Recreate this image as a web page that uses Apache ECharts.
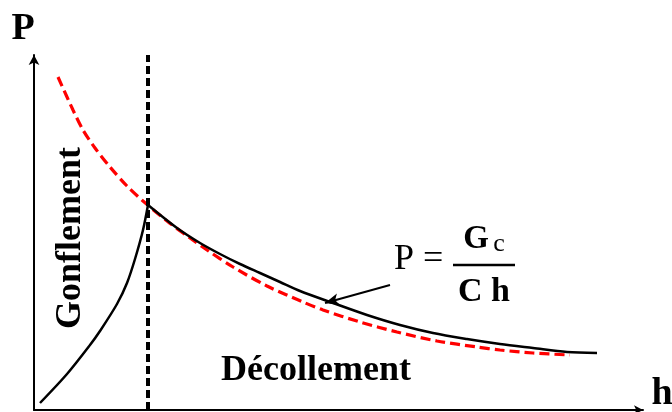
<!DOCTYPE html>
<html>
<head>
<meta charset="utf-8">
<script src="https://cdn.jsdelivr.net/npm/echarts@6/dist/echarts.min.js"></script>
<style>
  html, body { margin: 0; padding: 0; background: #fff; }
  #chart { width: 672px; height: 412px; }
</style>
</head>
<body>
<div id="chart"></div>
<script>
// abscisse du pic (gonflement -> decollement)
var hPic = 114;

// branche montante (gonflement)
var hMontee = [6, 33, 56, 66, 83, 93, 101, 109, 114];
var pMontee = [7, 36, 65, 79, 106, 127, 151, 180, 205];

// branche descendante (decollement)
var hDescente = [114, 143, 166, 186, 206, 226, 246, 266, 299, 333, 366, 399, 433, 466, 499, 533, 563];
var pDescente = [205, 182, 167, 156, 146, 137, 128, 119, 107, 95, 85, 77, 71, 66, 62, 58, 57];

// courbe theorique P = Gc / (C h)
var hTheo = [24, 39, 49, 61, 76, 93, 109, 133, 156, 173, 199, 233, 269, 289, 326, 363, 403, 443, 466, 499, 536];
var pTheo = [333, 300, 280, 262, 243, 224, 209, 189, 172, 160, 143, 124, 108, 100, 88, 78, 69, 63, 60, 57, 55];

// fleche vers la courbe
var flecheDe = [356, 125];
var flecheA = [291, 107];

var serif = '"Liberation Serif", "DejaVu Serif", serif';

function paires(xs, ys) {
  return xs.map(function (x, i) { return [x, ys[i]]; });
}

var myChart = echarts.init(document.getElementById('chart'));

var option = {
  animation: false,
  grid: { left: 34, right: 29, top: 55, bottom: 2 },
  xAxis: {
    type: 'value',
    min: 0,
    max: 609,
    axisLine: {
      show: true,
      symbol: ['none', 'arrow'],
      symbolSize: [7, 9],
      lineStyle: { color: '#000', width: 2 }
    },
    axisTick: { show: false },
    axisLabel: { show: false },
    splitLine: { show: false }
  },
  yAxis: {
    type: 'value',
    min: 0,
    max: 355,
    axisLine: {
      show: true,
      symbol: ['none', 'arrow'],
      symbolSize: [8, 10],
      lineStyle: { color: '#000', width: 2 }
    },
    axisTick: { show: false },
    axisLabel: { show: false },
    splitLine: { show: false }
  },
  series: [
    {
      name: 'theorique',
      type: 'line',
      smooth: 0.3,
      symbol: 'none',
      lineStyle: { color: '#ff0000', width: 3.2, type: [10, 5] },
      data: paires(hTheo, pTheo),
      z: 2
    },
    {
      name: 'montee',
      type: 'line',
      smooth: 0.3,
      symbol: 'none',
      lineStyle: { color: '#000', width: 2.5 },
      data: paires(hMontee, pMontee),
      markLine: {
        silent: true,
        symbol: ['none', 'none'],
        label: { show: false },
        lineStyle: { color: '#000', width: 4, type: [8, 4] },
        data: [{ xAxis: hPic }]
      },
      z: 3
    },
    {
      name: 'descente',
      type: 'line',
      smooth: 0.3,
      symbol: 'none',
      lineStyle: { color: '#000', width: 2.5 },
      data: paires(hDescente, pDescente),
      markLine: {
        silent: true,
        symbol: ['none', 'arrow'],
        symbolSize: [9, 14],
        label: { show: false },
        lineStyle: { color: '#000', width: 2, type: 'solid' },
        data: [[{ coord: flecheDe }, { coord: flecheA }]]
      },
      z: 3
    }
  ],
  graphic: [
    { type: 'text', x: 23, y: 29, style: { text: 'P', font: 'bold 38px ' + serif, fill: '#000', textAlign: 'center', textVerticalAlign: 'middle' } },
    { type: 'text', x: 662, y: 394, style: { text: 'h', font: 'bold 38px ' + serif, fill: '#000', textAlign: 'center', textVerticalAlign: 'middle' } },
    { type: 'text', x: 71, y: 238, rotation: Math.PI / 2, style: { text: 'Gonflement', font: 'bold 36px ' + serif, fill: '#000', textAlign: 'center', textVerticalAlign: 'middle' } },
    { type: 'text', x: 316, y: 371, style: { text: 'Décollement', font: 'bold 36px ' + serif, fill: '#000', textAlign: 'center', textVerticalAlign: 'middle' } },
    // formule P = Gc / (C h)
    { type: 'text', x: 394, y: 260, style: { text: 'P =', font: '36px ' + serif, fill: '#000', textAlign: 'left', textVerticalAlign: 'middle' } },
    { type: 'text', x: 476, y: 239, style: { text: 'G', font: 'bold 33px ' + serif, fill: '#000', textAlign: 'center', textVerticalAlign: 'middle' } },
    { type: 'text', x: 499, y: 244, style: { text: 'c', font: '26px ' + serif, fill: '#000', textAlign: 'center', textVerticalAlign: 'middle' } },
    { type: 'line', shape: { x1: 453, y1: 265, x2: 515, y2: 265 }, style: { stroke: '#000', lineWidth: 2.5 } },
    { type: 'text', x: 484, y: 292, style: { text: 'C h', font: 'bold 34px ' + serif, fill: '#000', textAlign: 'center', textVerticalAlign: 'middle' } }
  ]
};

myChart.setOption(option);
</script>
</body>
</html>
